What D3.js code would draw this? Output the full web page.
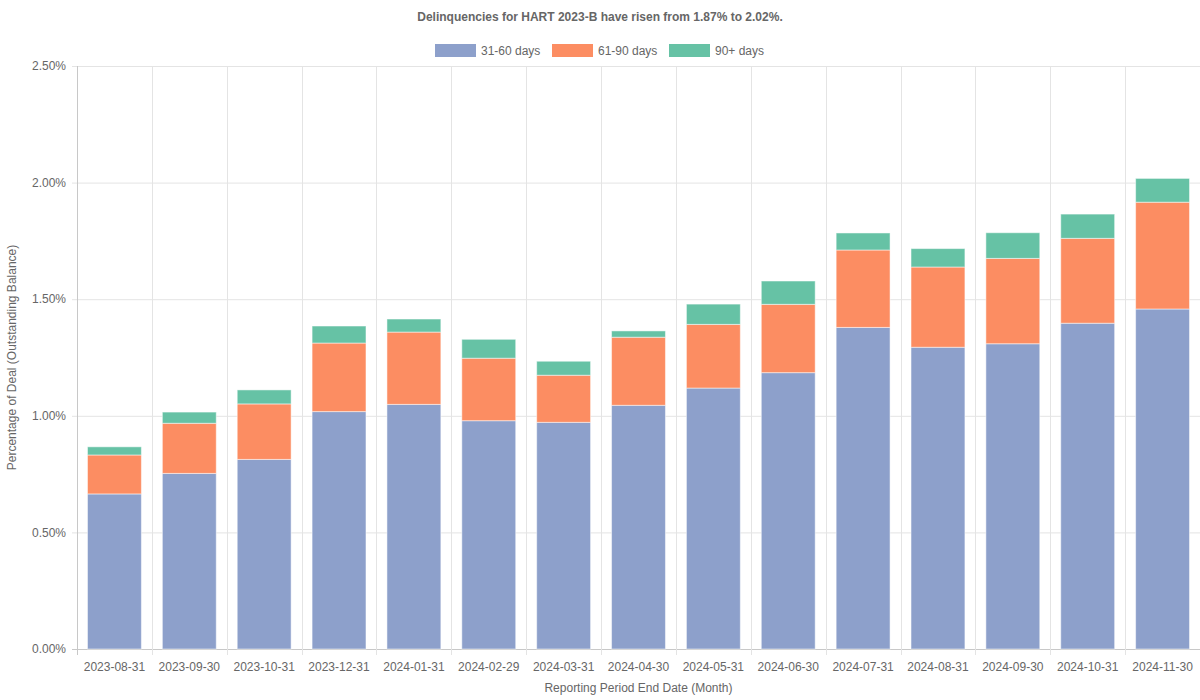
<!DOCTYPE html>
<html><head><meta charset="utf-8">
<script src="https://cdn.jsdelivr.net/npm/d3@7"></script>
<style>body{margin:0;background:#fff;} svg{display:block;font-family:"Liberation Sans",Arial,Helvetica,sans-serif;}</style>
</head><body>
<svg id="c" width="1200" height="700"></svg>
<script>
const categories = ["2023-08-31","2023-09-30","2023-10-31","2023-12-31","2024-01-31","2024-02-29","2024-03-31","2024-04-30","2024-05-31","2024-06-30","2024-07-31","2024-08-31","2024-09-30","2024-10-31","2024-11-30"];
const d31_60 = [0.665,0.753,0.813,1.018,1.049,0.979,0.972,1.045,1.119,1.185,1.379,1.294,1.309,1.397,1.458];
const d61_90 = [0.167,0.215,0.238,0.294,0.310,0.268,0.202,0.292,0.273,0.293,0.332,0.344,0.366,0.364,0.458];
const d90p   = [0.035,0.048,0.060,0.073,0.056,0.081,0.060,0.027,0.087,0.100,0.073,0.079,0.110,0.104,0.102];
const seriesNames = ["31-60 days","61-90 days","90+ days"];
const colors = ["#8da0cb","#fc8d62","#66c2a5"];
const yTicks = [0,0.5,1,1.5,2,2.5];
const titleText = "Delinquencies for HART 2023-B have risen from 1.87% to 2.02%.";

const svg = d3.select("#c");
const m = {l:77, r:1200, t:66, b:649};
const x = d3.scaleBand().domain(categories).range([m.l, m.r]).paddingInner(0).paddingOuter(0);
const y = d3.scaleLinear().domain([0,2.5]).range([m.b, m.t]);
const txt = "#666";

// grid
svg.append("g").selectAll("line.h").data(yTicks).join("line")
  .attr("x1", m.l-5).attr("x2", m.r).attr("y1", d=>y(d)+0.5).attr("y2", d=>y(d)+0.5)
  .attr("stroke", d=> d===0 ? "#c8c8c8" : "#e4e4e4").attr("stroke-width",1);
const vlines = categories.map(c=>x(c));
svg.append("g").selectAll("line.v").data(vlines).join("line")
  .attr("x1", d=>Math.round(d)+0.5).attr("x2", d=>Math.round(d)+0.5)
  .attr("y1", m.t).attr("y2", m.b+6)
  .attr("stroke", (d,i)=> i===0 ? "#c8c8c8" : "#e4e4e4").attr("stroke-width",1);

// y labels
svg.append("g").selectAll("text").data(yTicks).join("text")
  .attr("x", 66).attr("y", d=>y(d)).attr("dy","0.35em").attr("text-anchor","end")
  .attr("font-size",12).attr("fill",txt).text(d=>d3.format(".2f")(d)+"%");
// x labels
svg.append("g").selectAll("text").data(categories).join("text")
  .attr("x", d=>x(d)+x.bandwidth()/2).attr("y", 667).attr("dy","0.35em").attr("text-anchor","middle")
  .attr("font-size",12).attr("fill",txt).text(d=>d);

// stacks
const rows = categories.map((c,i)=>({cat:c, s0:d31_60[i], s1:d61_90[i], s2:d90p[i]}));
const stack = d3.stack().keys(["s0","s1","s2"])(rows);
const bw = x.bandwidth()*0.72;
stack.forEach((layer,k)=>{
  svg.append("g").selectAll("rect").data(layer).join("rect")
    .attr("x", d=>x(d.data.cat)+(x.bandwidth()-bw)/2)
    .attr("width", bw)
    .attr("y", d=>y(d[1]))
    .attr("height", d=>y(d[0])-y(d[1]))
    .attr("fill", colors[k])
    .attr("stroke","rgba(255,255,255,0.5)").attr("stroke-width",1);
});

// title
svg.append("text").attr("x",600).attr("y",17).attr("dy","0.35em").attr("text-anchor","middle")
  .attr("font-size",12).attr("font-weight","bold").attr("fill",txt).text(titleText);

// legend
const legX = [435,552,669];
seriesNames.forEach((n,i)=>{
  svg.append("rect").attr("x",legX[i]+0.5).attr("y",44.5).attr("width",40).attr("height",12)
    .attr("fill",colors[i]).attr("stroke",colors[i]).attr("stroke-width",1);
  svg.append("text").attr("x",legX[i]+46).attr("y",50.5).attr("dy","0.35em")
    .attr("font-size",12).attr("fill",txt).text(n);
});

// axis titles
svg.append("text").attr("x",(m.l+m.r)/2).attr("y",688).attr("dy","0.35em").attr("text-anchor","middle")
  .attr("font-size",12).attr("fill",txt).text("Reporting Period End Date (Month)");
svg.append("text").attr("transform",`translate(12,${(m.t+m.b)/2}) rotate(-90)`).attr("dy","0.35em")
  .attr("text-anchor","middle").attr("font-size",12).attr("fill",txt).text("Percentage of Deal (Outstanding Balance)");
</script>
</body></html>
